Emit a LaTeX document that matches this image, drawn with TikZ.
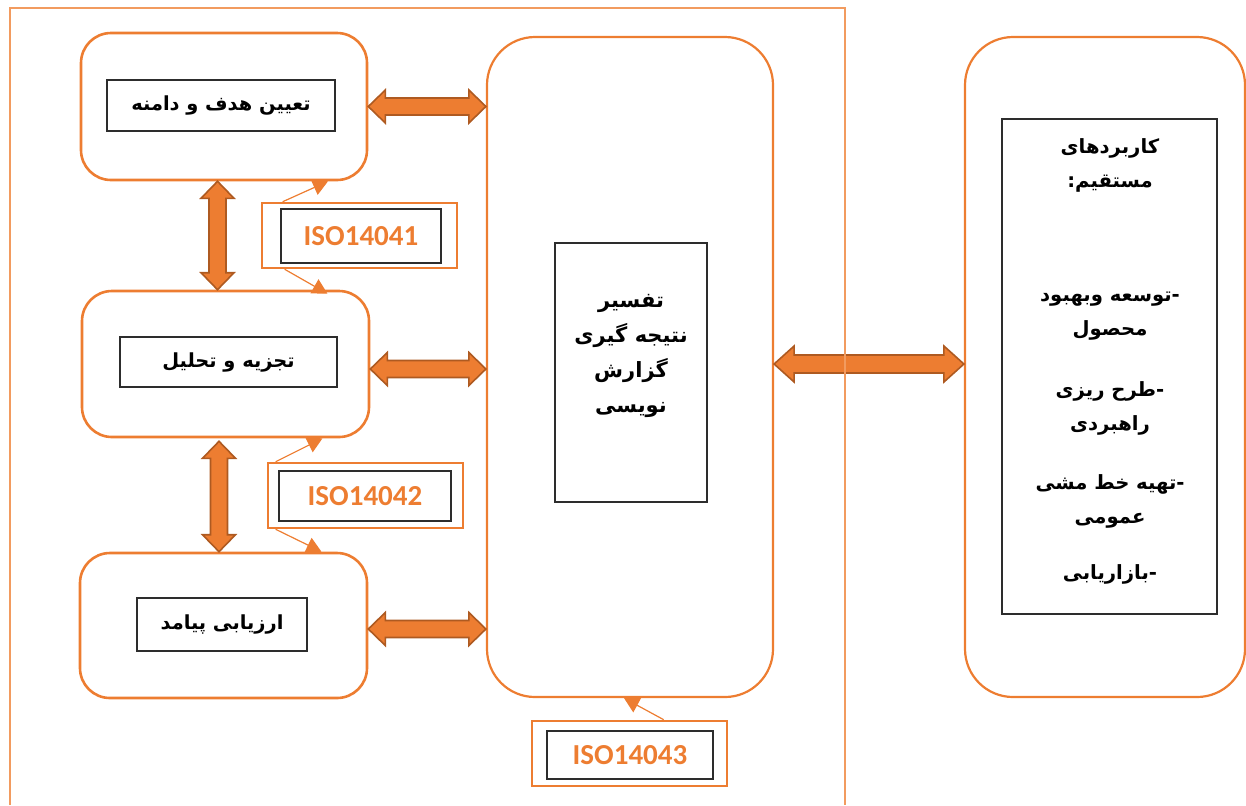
\documentclass[tikz,border=0pt]{standalone}
\usepackage{fontspec}
\setmainfont{Carlito}
\newfontfamily\fa[Script=Arabic]{DejaVu Sans}
\TeXXeTstate=1
\usetikzlibrary{arrows.meta,calc}
\definecolor{orn}{RGB}{237,125,49}
\definecolor{ornd}{RGB}{174,90,33}
\definecolor{ornl}{RGB}{242,155,95}
\definecolor{edge}{RGB}{45,45,45}
\tikzset{
  stage/.style={draw=orn,line width=1.3pt,rounded corners=15pt,inner sep=0pt},
  bigbox/.style={draw=orn,line width=1.1pt,rounded corners=24pt,inner sep=0pt},
  tbox/.style={draw=edge,line width=0.7pt,inner sep=0pt,font=\fa\bfseries\fontsize{9.7}{11}\selectfont},
  txt/.style={inner sep=0pt,align=center,font=\fa\bfseries\fontsize{9.8}{17}\selectfont},
  midtxt/.style={inner sep=0pt,align=center,font=\fa\bfseries\fontsize{10.5}{17.5}\selectfont},
  isoout/.style={draw=orn,line width=1.3pt,inner sep=0pt},
  isoin/.style={draw=edge,line width=0.7pt,inner sep=0pt,text=orn,font=\bfseries\fontsize{14.5}{16}\selectfont},
  thinarr/.style={draw=orn,line width=0.6pt,-{Triangle[length=7.5pt,width=8pt]},fill=none},
  blk/.style={fill=orn,draw=ornd,line width=0.8pt,line join=miter},
  frameline/.style={draw=ornl,line width=0.8pt}
}
% horizontal block arrow: from #1 to #2 at y of #1; head length #3, head half height #4, shaft half height #5
\newcommand\hblk[5]{\path[blk] let \p1=(#1),\p2=(#2) in
  (\x1,\y1) -- (\x1+#3,\y1+#4) -- (\x1+#3,\y1+#5) -- (\x2-#3,\y1+#5) -- (\x2-#3,\y1+#4) -- (\x2,\y1)
  -- (\x2-#3,\y1-#4) -- (\x2-#3,\y1-#5) -- (\x1+#3,\y1-#5) -- (\x1+#3,\y1-#4) -- cycle;}
% vertical block arrow: from #1 (top) to #2 (bottom) at x of #1
\newcommand\vblk[5]{\path[blk] let \p1=(#1),\p2=(#2) in
  (\x1,\y1) -- (\x1+#4,\y1-#3) -- (\x1+#5,\y1-#3) -- (\x1+#5,\y2+#3) -- (\x1+#4,\y2+#3) -- (\x1,\y2)
  -- (\x1-#4,\y2+#3) -- (\x1-#5,\y2+#3) -- (\x1-#5,\y1-#3) -- (\x1-#4,\y1-#3) -- cycle;}
\begin{document}
\begin{tikzpicture}[x=0.5pt,y=-0.5pt]
\useasboundingbox (0,0) rectangle (1246,805);
% stage boxes
\node[stage,minimum width=143pt,minimum height=73.5pt] (b1) at (224,106.5) {};
\node[stage,minimum width=143.5pt,minimum height=73pt] (b2) at (225.5,364) {};
\node[stage,minimum width=143.5pt,minimum height=72.5pt] (b3) at (223.5,625.5) {};
\node[bigbox,minimum width=143pt,minimum height=330pt] (mid) at (630,367) {};
\node[bigbox,minimum width=140pt,minimum height=330pt] (rb) at (1105,367) {};
% inner text boxes
\node[tbox,minimum width=114pt,minimum height=25.5pt] (i1) at (221,105.5) {\beginR تعیین هدف و دامنه\endR};
\node[tbox,minimum width=108.5pt,minimum height=25pt] (i2) at (228.5,362) {\beginR تجزیه و تحلیل\endR};
\node[tbox,minimum width=85pt,minimum height=26.5pt] (i3) at (222,624.5) {\beginR ارزیابی پیامد\endR};
\node[tbox,minimum width=76pt,minimum height=129.5pt] (im) at (631,372.5) {};
\node[tbox,minimum width=107.5pt,minimum height=247.5pt] (ir) at (1109.5,366.5) {};
% texts
\node[midtxt] (mt) at (631,356) {\beginR تفسیر\endR\\\beginR نتیجه گیری\endR\\\beginR گزارش\endR\\\beginR نویسی\endR};
\node[txt] (r1) at (1110,165) {\beginR کاربردهای\endR\\\beginR مستقیم:\endR};
\node[txt] (r2) at (1110,316) {\beginR -توسعه وبهبود\endR\\\beginR محصول\endR};
\node[txt] (r3) at (1110,408) {\beginR -طرح ریزی\endR\\\beginR راهبردی\endR};
\node[txt] (r4) at (1110,501) {\beginR -تهیه خط مشی\endR\\\beginR عمومی\endR};
\node[txt] (r5) at (1110,574) {\beginR -بازاریابی\endR};
% ISO boxes
\node[isoout,minimum width=97.5pt,minimum height=32.5pt] (o1) at (359.5,235.5) {};
\node[isoin,minimum width=80pt,minimum height=27pt] (n1) at (361,236) {ISO14041};
\node[isoout,minimum width=97.5pt,minimum height=32.5pt] (o2) at (365.5,495.5) {};
\node[isoin,minimum width=86pt,minimum height=25pt] (n2) at (365,496) {ISO14042};
\node[isoout,minimum width=97.5pt,minimum height=32.5pt] (o3) at (629.5,753.5) {};
\node[isoin,minimum width=83pt,minimum height=24pt] (n3) at (630,755) {ISO14043};
% thin arrows
\draw[thinarr] ([xshift=11pt]o1.north west) -- ([xshift=52pt]b1.south);
\draw[thinarr] ([xshift=12pt]o1.south west) -- ([xshift=51pt,yshift=-2pt]b2.north);
\draw[thinarr] ([xshift=4.5pt]o2.north west) -- ([xshift=48.5pt]b2.south);
\draw[thinarr] ([xshift=4.5pt]o2.south west) -- ([xshift=49pt]b3.north);
\draw[thinarr] ([xshift=66.5pt]o3.north west) -- ([xshift=-3pt]mid.south);
% block arrows
\hblk{b1.east}{mid.west}{8.5pt}{8.25pt}{4.25pt}
\hblk{[yshift=-2.5pt]b2.east}{mid.west}{8.5pt}{8.25pt}{4.25pt}
\hblk{[yshift=-1.75pt]b3.east}{mid.west}{8.5pt}{8.25pt}{4.25pt}
\hblk{[yshift=1.5pt]mid.east}{rb.west}{10pt}{9pt}{4.5pt}
\vblk{[xshift=-3.25pt]b1.south}{b2.north}{8.5pt}{8.25pt}{4.25pt}
\vblk{[xshift=-3.25pt,yshift=-1.5pt]b2.south}{b3.north}{8.5pt}{8.25pt}{4.25pt}
% outer frame
\draw[frameline] (10,805) -- (10,8) -- (845,8) -- (845,805);
\end{tikzpicture}
\end{document}
